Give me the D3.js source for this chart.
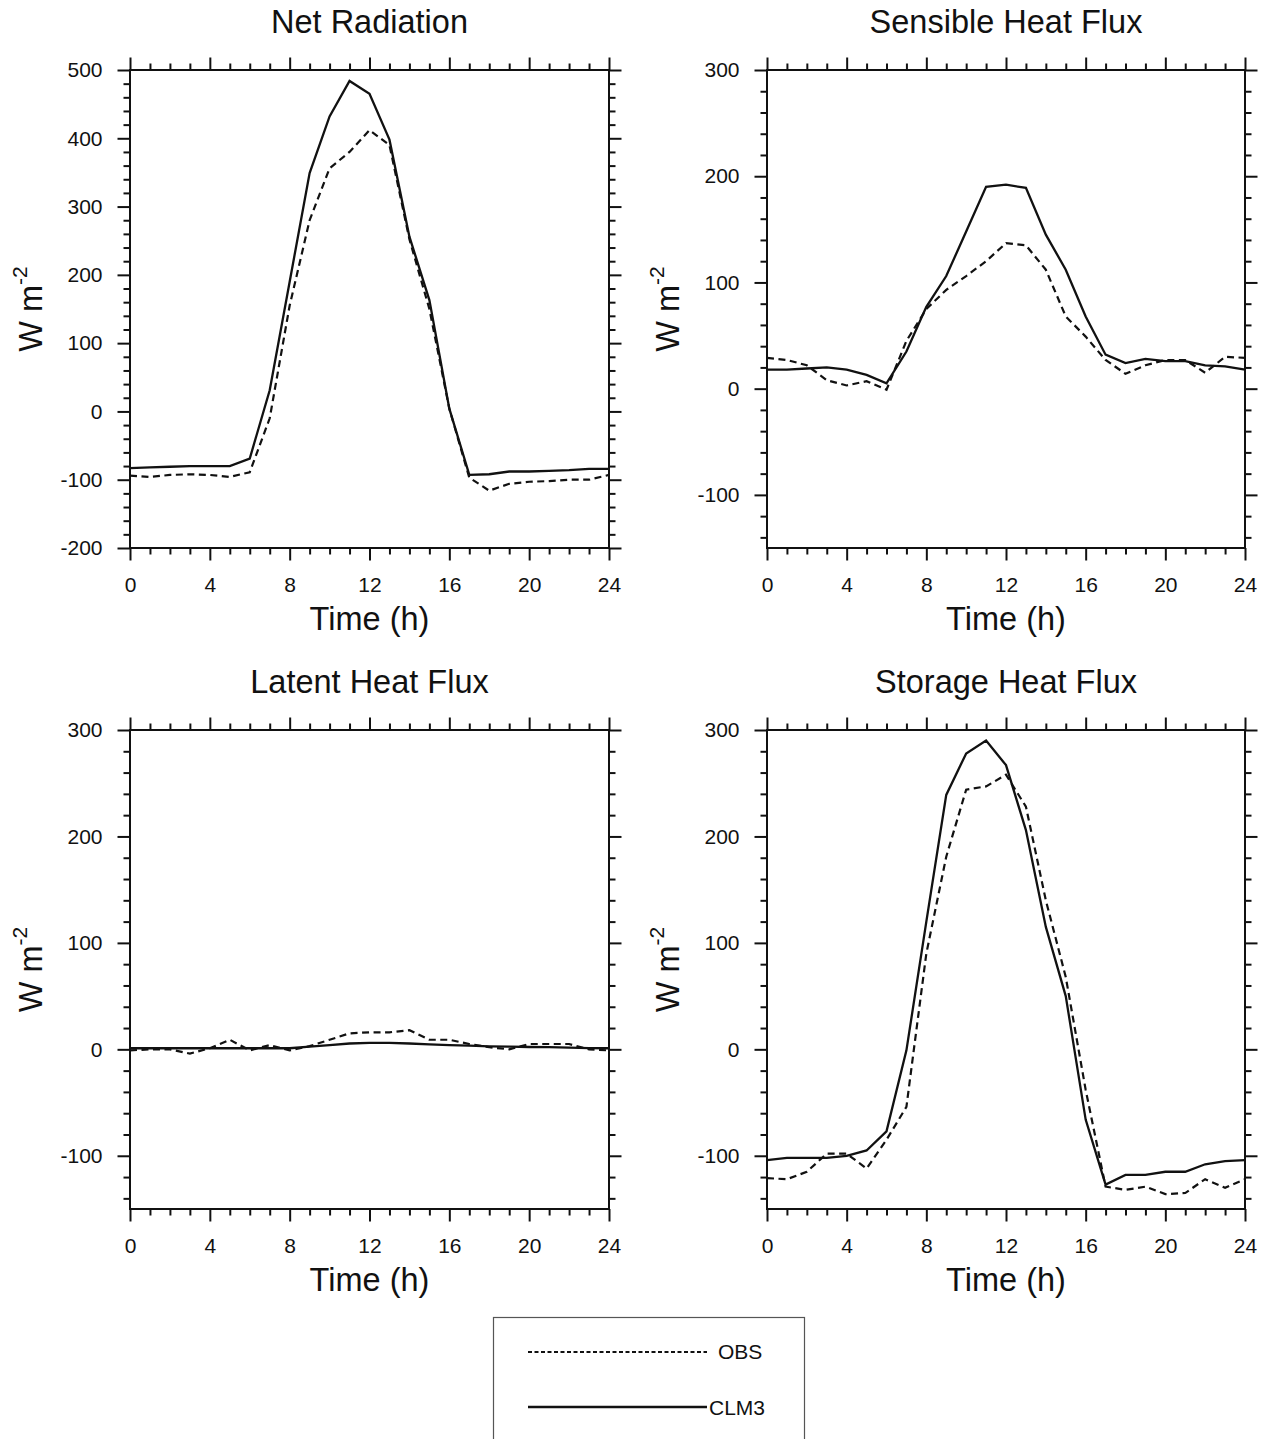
<!DOCTYPE html>
<html>
<head>
<meta charset="utf-8">
<script src="https://cdn.jsdelivr.net/npm/d3@7"></script>
<style>
  html, body { margin: 0; padding: 0; background: #fff; }
  svg { display: block; }
  text { font-family: "Liberation Sans", Arial, Helvetica, sans-serif; fill: #111; }
</style>
</head>
<body>
<script>
// ---------------- data ----------------
const hours = [0,1,2,3,4,5,6,7,8,9,10,11,12,13,14,15,16,17,18,19,20,21,22,23,24];

const panelTitles = ["Net Radiation", "Sensible Heat Flux", "Latent Heat Flux", "Storage Heat Flux"];
const seriesNames = ["OBS", "CLM3"];

const netObs = [-94,-96,-93,-92,-93,-96,-89,-10,155,280,356,380,412,390,252,150,4,-97,-116,-106,-103,-102,-100,-100,-93];
const netClm = [-83,-82,-81,-80,-80,-80,-69,31,190,349,432,484,465,398,256,163,4,-93,-92,-88,-88,-87,-86,-84,-84];

const senObs = [29,27,22,8,3,7,-1,45,75,93,106,120,137,135,112,68,49,27,14,22,27,27,15,30,29];
const senClm = [18,18,19,20,18,13,5,35,77,106,148,190,192,189,145,112,68,32,24,28,26,26,22,21,18];

const latObs = [-1,0,0,-4,1,9,-1,4,-1,3,9,15,16,16,18,9,9,5,2,0,5,5,5,0,-1];
const latClm = [1,1,1,1,1,1,1,1,1,2.5,4,5.5,6,6,5.5,4.7,4,3.4,2.8,2.5,2.2,2,1.6,1.2,1];

const stoObs = [-121,-122,-115,-98,-98,-112,-85,-54,90,181,244,247,258,228,140,68,-38,-129,-132,-129,-136,-135,-122,-130,-122];
const stoClm = [-104,-102,-102,-102,-100,-95,-77,-1,120,239,278,290,267,206,115,50,-66,-127,-118,-118,-115,-115,-108,-105,-104];

const xMajorTicks = [0,4,8,12,16,20,24];
const yDomains = [[-200,500],[-150,300],[-150,300],[-150,300]];
const yMajorTicks = [
  [-200,-100,0,100,200,300,400,500],
  [-100,0,100,200,300],
  [-100,0,100,200,300],
  [-100,0,100,200,300]
];

// ---------------- layout ----------------
const W = 1269, H = 1439;
const frames = [
  {x:130, y:70,  w:479, h:478},
  {x:767, y:70,  w:478, h:478},
  {x:130, y:730, w:479, h:479},
  {x:767, y:730, w:478, h:479}
];
const seriesData = [[netObs, netClm],[senObs, senClm],[latObs, latClm],[stoObs, stoClm]];

const svg = d3.select("body").append("svg").attr("width", W).attr("height", H);
svg.append("rect").attr("width", W).attr("height", H).attr("fill", "#fff");

const ink = "#111";
const majLen = 12.5, minLen = 6.5;
const fmt = d => String(d);   // plain hyphen-minus like the original

frames.forEach((f, i) => {
  const g = svg.append("g").attr("transform", `translate(${f.x},${f.y})`);
  const x = d3.scaleLinear().domain([0,24]).range([0, f.w]);
  const y = d3.scaleLinear().domain(yDomains[i]).range([f.h, 0]);

  const xMinor = d3.range(0, 25, 1).filter(v => !xMajorTicks.includes(v));
  const yMinor = d3.range(Math.ceil(yDomains[i][0]/20)*20, yDomains[i][1]+1, 20)
                   .filter(v => !yMajorTicks[i].includes(v));

  const styleAxis = (sel) => {
    sel.select(".domain").remove();
    sel.selectAll("line").attr("stroke", ink).attr("stroke-width", 2);
  };

  const sides = [
    {axis: d3.axisBottom, scale: x, major: xMajorTicks, minor: xMinor, t: `translate(0,${f.h})`, labels: true, pad: 17},
    {axis: d3.axisTop,    scale: x, major: xMajorTicks, minor: xMinor, t: `translate(0,0)`, labels: false, pad: 10},
    {axis: d3.axisLeft,   scale: y, major: yMajorTicks[i], minor: yMinor, t: `translate(0,0)`, labels: true, pad: 15},
    {axis: d3.axisRight,  scale: y, major: yMajorTicks[i], minor: yMinor, t: `translate(${f.w},0)`, labels: false, pad: 10}
  ];
  sides.forEach(s => {
    g.append("g").attr("transform", s.t)
      .call(s.axis(s.scale).tickValues(s.minor).tickSize(minLen).tickSizeOuter(0).tickFormat(""))
      .call(styleAxis);
    const ga = g.append("g").attr("transform", s.t)
      .call(s.axis(s.scale).tickValues(s.major).tickSize(majLen).tickSizeOuter(0)
            .tickPadding(s.pad)
            .tickFormat(s.labels ? fmt : ""))
      .call(styleAxis);
    ga.selectAll("text").attr("font-size", 21).attr("fill", ink)
      .attr("font-family", '"Liberation Sans", Arial, Helvetica, sans-serif');
  });

  // frame
  g.append("rect").attr("x",0).attr("y",0).attr("width",f.w).attr("height",f.h)
    .attr("fill","none").attr("stroke",ink).attr("stroke-width",2);

  // lines
  const line = d3.line().x((d,j) => x(hours[j])).y(d => y(d));
  const [obs, clm] = seriesData[i];
  g.append("path").datum(obs).attr("d", line).attr("fill","none")
    .attr("stroke", ink).attr("stroke-width", 2.2).attr("stroke-dasharray","7,4.5");
  g.append("path").datum(clm).attr("d", line).attr("fill","none")
    .attr("stroke", ink).attr("stroke-width", 2.3);

  // title
  g.append("text").attr("x", f.w/2).attr("y", -37).attr("text-anchor","middle")
    .attr("font-size", 32.5).text(panelTitles[i]);

  // x label
  g.append("text").attr("x", f.w/2).attr("y", f.h + 82).attr("text-anchor","middle")
    .attr("font-size", 32.5).text("Time (h)");

  // y label
  const yl = g.append("text")
    .attr("transform", `translate(-88,${f.h/2}) rotate(-90)`)
    .attr("text-anchor","middle").attr("font-size", 32.5);
  yl.append("tspan").text("W m");
  yl.append("tspan").attr("dy", -15).attr("font-size", 21).text("-2");
});

// ---------------- legend ----------------
const lg = svg.append("g");
lg.append("rect").attr("x", 493.5).attr("y", 1317.5).attr("width", 311).attr("height", 140)
  .attr("fill","#fff").attr("stroke","#555").attr("stroke-width",1.2);
const legendRows = [
  {name: seriesNames[0], y: 1352, dash: "4,2.5", sw: 1.8, tx: 718, ty: 1359},
  {name: seriesNames[1], y: 1407, dash: null,    sw: 2.3, tx: 709, ty: 1415}
];
legendRows.forEach(r => {
  const ln = lg.append("line").attr("x1", 528).attr("x2", 707).attr("y1", r.y).attr("y2", r.y)
    .attr("stroke", ink).attr("stroke-width", r.sw);
  if (r.dash) ln.attr("stroke-dasharray", r.dash);
  lg.append("text").attr("x", r.tx).attr("y", r.ty).attr("font-size", 21).text(r.name);
});
</script>
</body>
</html>
